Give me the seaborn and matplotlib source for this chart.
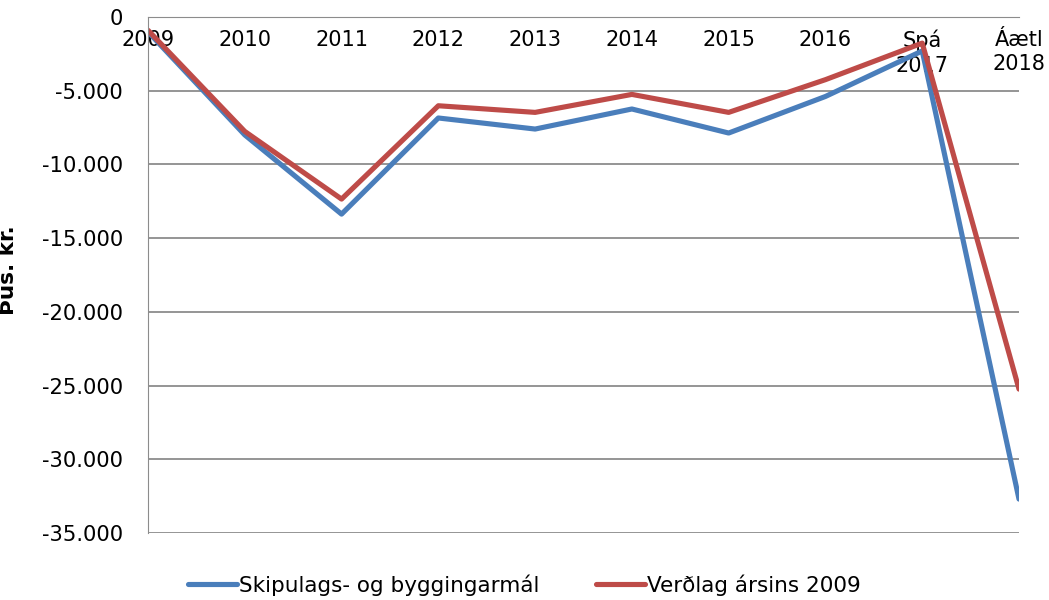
import pandas as pd
import matplotlib
matplotlib.use('Agg')
import matplotlib.pyplot as plt
import seaborn as sns
from matplotlib.ticker import FuncFormatter

# data
years = ['2009', '2010', '2011', '2012', '2013', '2014', '2015', '2016', 'Spá\n2017', 'Áætl\n2018']
skipulag = [-1000, -8000, -13370, -6850, -7600, -6240, -7870, -5390, -2300, -32700]
verdlag_2009 = [-900, -7760, -12350, -6020, -6470, -5250, -6470, -4250, -1770, -25240]
series_names = ['Skipulags- og byggingarmál', 'Verðlag ársins 2009']

# long-form frame for seaborn
df = pd.concat([
    pd.DataFrame({'pos': range(len(years)), 'value': skipulag, 'series': series_names[0]}),
    pd.DataFrame({'pos': range(len(years)), 'value': verdlag_2009, 'series': series_names[1]}),
])

sns.set_style('white')
plt.rcParams['font.family'] = ['DejaVu Sans']
plt.rcParams['text.color'] = 'black'
plt.rcParams['axes.labelcolor'] = 'black'
plt.rcParams['xtick.color'] = 'black'
plt.rcParams['ytick.color'] = 'black'

fig = plt.figure(figsize=(10.49, 6), dpi=100)
ax = fig.add_axes([148 / 1049, 1 - 533 / 600, (1019 - 148) / 1049, (533 - 17) / 600])

sns.lineplot(data=df, x='pos', y='value', hue='series', palette=['#4A7EBB', '#BE4B48'],
             linewidth=3.7, sort=False, ax=ax, legend=True, solid_capstyle='round')

ax.set_xlim(0, len(years) - 1)
ax.set_ylim(-35000, 0)
ax.set_yticks(range(-35000, 1, 5000))
ax.yaxis.set_major_formatter(FuncFormatter(lambda v, p: f'{int(v):,}'.replace(',', '.')))
ax.grid(axis='y', color='#8c8c8c', linewidth=1.3)
ax.set_axisbelow(True)

# category axis crosses at zero (top of plot)
ax.spines['bottom'].set_position(('data', 0))
ax.spines['bottom'].set_color('#8c8c8c')
ax.spines['left'].set_color('#8c8c8c')
ax.spines['top'].set_visible(False)
ax.spines['right'].set_visible(False)
ax.set_xticks(range(len(years)))
ax.set_xticklabels(years, fontsize=15, linespacing=1.3)
ax.tick_params(axis='x', length=0, pad=9)
ax.tick_params(axis='y', length=0, labelsize=15.2, pad=18)

ax.set_xlabel('')
ax.set_ylabel('Þús. kr.', fontsize=15.5, fontweight='bold')
ax.yaxis.set_label_coords(-0.149, 0.51)

handles, labels = ax.get_legend_handles_labels()
ax.legend(handles, labels, loc='center', bbox_to_anchor=(0.5, (600 - 585) / 600), bbox_transform=fig.transFigure,
          ncol=2, frameon=False, fontsize=15.5, handlelength=2.3, handletextpad=0.1, columnspacing=2.6)

fig.savefig('out.png', dpi=100)
